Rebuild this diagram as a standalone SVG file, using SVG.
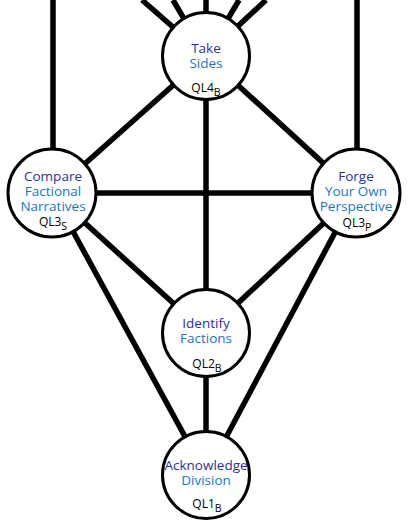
<svg xmlns="http://www.w3.org/2000/svg" width="411" height="528" viewBox="0 0 411 528">
<style>
.edge{stroke:#000;stroke-width:5.5;fill:none}
.node circle{fill:#fff;stroke:#000;stroke-width:3}
text{font-family:"Open Sans","Noto Sans",sans-serif;text-anchor:middle}
.t1{fill:#2e3192;font-size:13.5px}
.t2{fill:#1c75bc;font-size:13.5px}
.ql{fill:#000;font-size:12px}
.sub{font-size:10.5px}
</style>
<rect width="411" height="528" fill="#fff"/>
<g id="connectors">
<line class="edge" x1="206" y1="56" x2="142" y2="0"/>
<line class="edge" x1="206" y1="56" x2="173" y2="0"/>
<line class="edge" x1="206" y1="56" x2="206" y2="0"/>
<line class="edge" x1="206" y1="56" x2="239" y2="0"/>
<line class="edge" x1="206" y1="56" x2="266" y2="0"/>
<line class="edge" x1="53" y1="0" x2="53" y2="193"/>
<line class="edge" x1="357" y1="0" x2="357" y2="193"/>
<line class="edge" x1="206" y1="56" x2="52" y2="193"/>
<line class="edge" x1="206" y1="56" x2="356" y2="193"/>
<line class="edge" x1="206" y1="56" x2="206" y2="333"/>
<line class="edge" x1="52" y1="193" x2="356" y2="193"/>
<line class="edge" x1="52" y1="193" x2="206" y2="333"/>
<line class="edge" x1="52" y1="193" x2="206" y2="475"/>
<line class="edge" x1="356" y1="193" x2="206" y2="333"/>
<line class="edge" x1="356" y1="193" x2="206" y2="475"/>
<line class="edge" x1="206" y1="333" x2="206" y2="475"/>
</g>
<g id="take-sides" class="node">
<circle cx="206" cy="56" r="43.5"/>
<text class="t1" x="206" y="53">Take</text>
<text class="t2" x="206" y="68">Sides</text>
<text class="ql" x="206" y="92">QL4<tspan class="sub" dy="4">B</tspan></text>
</g>
<g id="compare" class="node">
<circle cx="52" cy="193" r="44"/>
<text class="t1" x="53" y="181">Compare</text>
<text class="t2" x="53" y="196">Factional</text>
<text class="t2" x="53" y="211">Narratives</text>
<text class="ql" x="53" y="226">QL3<tspan class="sub" dy="4">S</tspan></text>
</g>
<g id="forge" class="node">
<circle cx="356" cy="193" r="44"/>
<text class="t1" x="356" y="181">Forge</text>
<text class="t2" x="356" y="196">Your Own</text>
<text class="t2" x="356" y="211">Perspective</text>
<text class="ql" x="357" y="227">QL3<tspan class="sub" dy="4">P</tspan></text>
</g>
<g id="identify" class="node">
<circle cx="206" cy="333" r="43.5"/>
<text class="t1" x="206" y="328">Identify</text>
<text class="t2" x="206" y="343">Factions</text>
<text class="ql" x="207" y="368">QL2<tspan class="sub" dy="4">B</tspan></text>
</g>
<g id="acknowledge" class="node">
<circle cx="206" cy="475" r="43.5"/>
<text class="t1" x="206" y="470">Acknowledge</text>
<text class="t2" x="206" y="485">Division</text>
<text class="ql" x="207" y="508">QL1<tspan class="sub" dy="4">B</tspan></text>
</g>
</svg>
